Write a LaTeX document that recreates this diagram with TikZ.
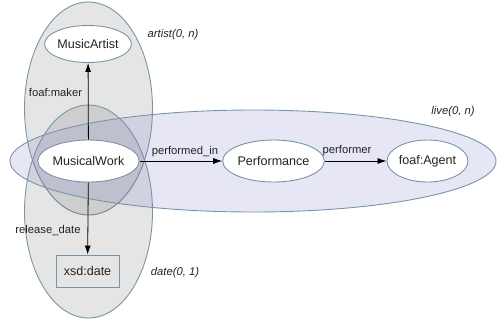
\documentclass[tikz,border=0pt]{standalone}
\usepackage{fontspec}
\setmainfont{Liberation Sans}
\usetikzlibrary{arrows.meta,shapes.geometric}
\definecolor{outl}{RGB}{118,150,168}
\definecolor{txt}{RGB}{35,35,35}
\definecolor{lav}{RGB}{130,130,200}
\begin{document}
\begin{tikzpicture}[x=1bp,y=-1bp,
  cluster/.style={draw=outl, line width=0.9pt, fill=black, fill opacity=0.1, draw opacity=1},
  livecl/.style={draw=outl, line width=0.9pt, fill=lav, fill opacity=0.2, draw opacity=1},
  nodeell/.style={ellipse, draw=outl, line width=0.9pt, fill=white, inner sep=0pt, text=txt, font=\fontsize{12.6}{14}\selectfont},
  boxnode/.style={rectangle, draw=outl, line width=0.8pt, inner sep=0pt, text=txt, font=\fontsize{12.6}{14}\selectfont},
  elabel/.style={inner sep=0pt, text=txt, font=\fontsize{11.3}{13}\selectfont},
  clabel/.style={inner sep=0pt, text=txt, font=\fontsize{11.3}{13}\selectfont\itshape},
  edge/.style={draw=black, line width=0.8pt, -{Latex[length=9bp,width=6bp]}}
]
\useasboundingbox (0,0) rectangle (497,321);
% clusters
\path[cluster] (88.5,108.5) ellipse [x radius=64, y radius=106.5];
\path[cluster] (88.5,211.5) ellipse [x radius=64, y radius=106.5];
\path[livecl] (253,161) ellipse [x radius=243, y radius=51];
% cluster labels
\node[clabel] (lartist) at (173,35) {artist(0, n)};
\node[clabel] (llive) at (453,112) {live(0, n)};
\node[clabel] (ldate) at (175,273) {date(0, 1)};
% nodes
\node[nodeell, minimum width=80bp, minimum height=37bp] (artist) at (88,44) {MusicArtist};
\node[nodeell, minimum width=87bp, minimum height=42bp] (work) at (88.5,161) {MusicalWork};
\node[nodeell, minimum width=87bp, minimum height=42bp] (perf) at (273.5,161) {Performance};
\node[nodeell, minimum width=79bp, minimum height=42bp] (agent) at (427.5,161) {foaf:Agent};
\node[boxnode, minimum width=63bp, minimum height=32bp] (date) at (87.5,271) {xsd:date};
% edges
\draw[edge] (work) -- (artist);
\draw[edge] (work) -- (date);
\draw[edge] (work) -- (perf);
\draw[edge] (perf) -- (agent);
% edge labels
\node[elabel] (lmaker) at (55.5,92) {foaf:maker};
\node[elabel] (lrel) at (48,231) {release\_date};
\node[elabel] (lperf) at (185,152) {performed\_in};
\node[elabel] (lperformer) at (347,151) {performer};
\end{tikzpicture}
\end{document}
